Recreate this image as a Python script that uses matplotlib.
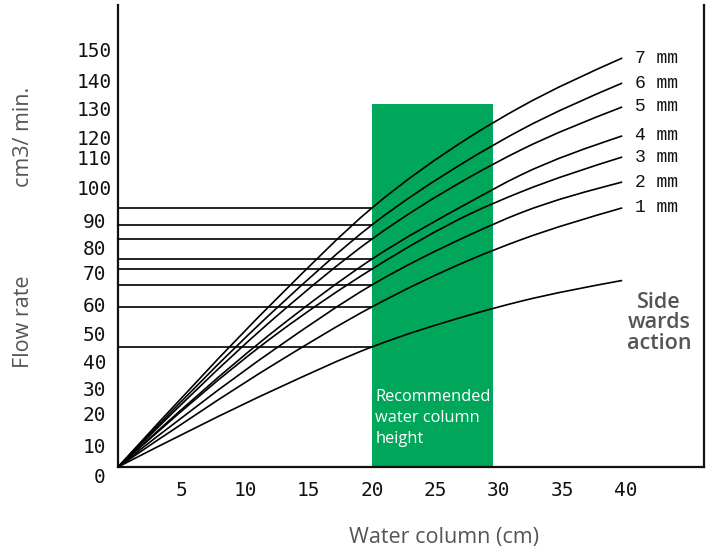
import matplotlib
matplotlib.use("Agg")
import matplotlib.pyplot as plt
import numpy as np
from matplotlib.path import Path
from matplotlib.patches import PathPatch
from matplotlib.transforms import ScaledTranslation

# ---- data ----
water_col = [0, 12.6, 20, 27.7, 31.7, 39.7]
series_names = ["7 mm", "6 mm", "5 mm", "4 mm", "3 mm", "2 mm", "1 mm"]
flow_7mm = [0, 61.0, 93.2, 118.7, 129.5, 147.1]
flow_6mm = [0, 57.6, 87.1, 110.8, 121.2, 138.1]
flow_5mm = [0, 54.7, 82.0, 104.3, 114.0, 129.5]
flow_4mm = [0, 50.0, 74.8, 95.3, 105.0, 119.1]
flow_3mm = [0, 48.2, 71.2, 91.0, 98.9, 111.5]
flow_2mm = [0, 43.2, 65.5, 83.5, 91.4, 102.5]
flow_1mm = [0, 37.8, 57.6, 74.5, 81.7, 93.2]
flow_side = [0, 28.4, 43.2, 54.7, 59.6, 67.1]
ref_x = 20  # water column where the reading lines are drawn

rec_start, rec_end, rec_top = 20, 29.5, 130.6

x_ticks = [5, 10, 15, 20, 25, 30, 35, 40]
y_tick_labels = ["0", "10", "20", "30", "40", "50", "60", "70", "80", "90",
                 "100", "110", "120", "130", "140", "150"]
# label placement as drawn in the reference (slightly irregular)
y_tick_pos = [0, 7.9, 19.4, 28.4, 37.8, 48.2, 58.3, 69.8, 78.8, 88.8,
              100.7, 111.2, 118.7, 129.1, 139.2, 150.0]


def smooth_path(xs, ys):
    """Path through the points, drawn as cubic Hermite (Bezier) segments."""
    x = np.asarray(xs, float)
    y = np.asarray(ys, float)
    h = np.diff(x)
    d = np.diff(y) / h
    m = np.empty_like(x)
    m[1:-1] = (d[:-1] * h[1:] + d[1:] * h[:-1]) / (h[:-1] + h[1:])
    m[0] = 1.5 * d[0] - 0.5 * m[1]
    m[-1] = 1.5 * d[-1] - 0.5 * m[-2]
    verts = [(x[0], y[0])]
    codes = [Path.MOVETO]
    for i in range(len(x) - 1):
        k = h[i] / 3.0
        verts += [(x[i] + k, y[i] + k * m[i]),
                  (x[i + 1] - k, y[i + 1] - k * m[i + 1]),
                  (x[i + 1], y[i + 1])]
        codes += [Path.CURVE4] * 3
    return Path(verts, codes)


# ---- figure ----
W, H = 707, 554
fig = plt.figure(figsize=(W / 100, H / 100), dpi=100)
L, B, R, T = 118, 467, 704, 5
ax = fig.add_axes([L / W, (H - B) / H, (R - L) / W, (B - T) / H])

green = "#00a65a"
gray = "#555555"
sans = "Open Sans"

ax.bar(rec_start, rec_top, width=rec_end - rec_start, align="edge",
       color=green, zorder=1)

curves = [flow_7mm, flow_6mm, flow_5mm, flow_4mm, flow_3mm, flow_2mm, flow_1mm]
idx = water_col.index(ref_x)
for name, ys in zip(series_names + [None], curves + [flow_side]):
    ax.add_patch(PathPatch(smooth_path(water_col, ys), fill=False,
                           edgecolor="black", lw=1.2, zorder=3))
    ax.hlines(ys[idx], 0, ref_x, color="black", lw=1.2, zorder=3)
    if name:
        ax.annotate(name, (water_col[-1], ys[-1]), xytext=(9, 0),
                    textcoords="offset points", va="center", ha="left",
                    fontsize=13, family="Liberation Mono", color="#111111")

ax.text(42.6, 51.8, "Side\nwards\naction",
        ha="center", va="center", family=sans, fontsize=15.5,
        fontweight="semibold", color=gray, linespacing=0.95)

ax.text(rec_start + 0.25, 17.6, "Recommended\nwater column\nheight",
        ha="left", va="center", family=sans, fontsize=11.8, color="white",
        linespacing=1.45, zorder=4)

# axes styling
ax.spines["top"].set_visible(False)
for s in ["left", "bottom", "right"]:
    ax.spines[s].set_linewidth(1.6)
    ax.spines[s].set_color("#111111")

ax.set_xticks(x_ticks)
ax.set_xticklabels([str(v) for v in x_ticks], family="DejaVu Sans Mono",
                   fontsize=14, color="#111111")
ax.set_yticks(y_tick_pos)
ax.set_yticklabels(y_tick_labels, family="DejaVu Sans Mono", fontsize=14,
                   color="#111111", ha="center")
ax.tick_params(axis="x", length=0, pad=10)
ax.tick_params(axis="y", length=0, pad=17)
ax.set_xlim(0, (R - L) / 12.7)
ax.set_ylim(0, (B - T) / 2.78)

# the "0" label sits a little below the axis in the reference
zero_lbl = ax.get_yticklabels()[0]
zero_lbl.set_transform(zero_lbl.get_transform() +
                       ScaledTranslation(4 / 72, -6 / 72, fig.dpi_scale_trans))

fig.text(444 / W, 1 - 538 / H, "Water column (cm)", ha="center",
         va="center", family=sans, fontsize=15.5, color=gray)
fig.text(24 / W, 1 - 322 / H, "Flow rate", ha="center", va="center",
         rotation=90, family=sans, fontsize=15.5, color=gray)
fig.text(24 / W, 1 - 137 / H, "cm3/ min.", ha="center", va="center",
         rotation=90, family=sans, fontsize=15.5, color=gray)

fig.savefig("out.png", dpi=100)
